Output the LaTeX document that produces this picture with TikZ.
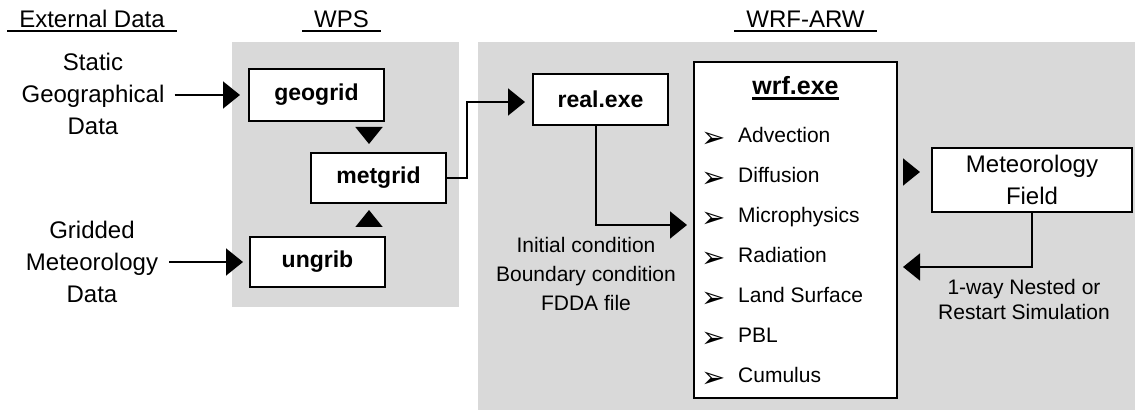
\documentclass[tikz,border=0pt]{standalone}
\usepackage{fontspec}
\setmainfont{Liberation Sans}
\newfontfamily\dejavu{DejaVu Sans}
\usetikzlibrary{arrows.meta,calc}
\definecolor{panel}{RGB}{217,217,217}
\tikzset{
 box/.style={draw, line width=2pt, fill=white, inner sep=0pt, font=\fontsize{23}{28}\selectfont\bfseries},
 arr/.style={line width=1.8pt, -{Triangle[length=17pt,width=27pt]}},
 big/.style={inner sep=0pt, align=center, font=\fontsize{24}{32}\selectfont},
 small/.style={inner sep=0pt, align=center, font=\fontsize{21}{29.25}\selectfont},
 head/.style={inner sep=0pt, anchor=base, font=\fontsize{24}{28}\selectfont},
 uline/.style={line width=2pt},
 item/.style={inner sep=0pt, anchor=base west, font=\fontsize{21}{25}\selectfont},
 bul/.style={inner sep=0pt, font=\dejavu\fontsize{29}{29}\selectfont},
}
\begin{document}
\begin{tikzpicture}[x=1pt,y=-1pt]
\useasboundingbox (0,0) rectangle (1135,414);
% panels
\fill[panel] (232,42) rectangle (459,307);
\fill[panel] (478,42) rectangle (1135,410);
% headings
\node[head] (hext) at (92,28) {External Data};
\draw[uline] (7,31.5) -- (177,31.5);
\node[head] (hwps) at (341.5,28) {WPS};
\draw[uline] (302,31.5) -- (381,31.5);
\node[head] (hwrf) at (805.5,28) {WRF-ARW};
\draw[uline] (734,31.5) -- (877,31.5);
% external data
\node[big] (static) at (93,94) {Static\\Geographical\\Data};
\node[big] (gridded) at (92,262) {Gridded\\Meteorology\\Data};
% WPS boxes
\node[box, minimum width=135pt, minimum height=52pt] (geogrid) at (316.5,95) {geogrid};
\node[box, minimum width=135pt, minimum height=50pt] (metgrid) at (378.5,178) {metgrid};
\node[box, minimum width=135pt, minimum height=50pt] (ungrib) at (317.5,262) {ungrib};
% WRF boxes
\node[box, minimum width=135pt, minimum height=51pt] (real) at (600.5,99.5) {real.exe};
\node[box, minimum width=203pt, minimum height=336pt] (wrf) at (795.5,230) {};
\node[box, minimum width=200pt, minimum height=64pt, align=center, font=\fontsize{24}{32}\selectfont] (met) at (1032,180) {Meteorology\\Field};
% wrf.exe contents
\node[inner sep=0pt, anchor=base, font=\fontsize{25}{30}\selectfont\bfseries] (title) at (795.5,94.3) {wrf.exe};
\draw[line width=2.5pt] ([yshift=-4pt]title.base west) -- ([yshift=-4pt]title.base east);
\foreach \t [count=\i] in {Advection, Diffusion, Microphysics, Radiation, Land Surface, PBL, Cumulus} {
  \node[item] (it\i) at (738,102.5+40*\i) {\t};
  \node[bul] (b\i) at (714,100+40*\i) {➢};
}
% labels
\node[small] (ic) at (586,274) {Initial condition\\Boundary condition\\FDDA file};
\node[small, font=\fontsize{21}{25}\selectfont] (nest) at (1024,299) {1-way Nested or\\Restart Simulation};
% connectors
\draw[arr, shorten <=10pt, shorten >=8pt] (static.east |- geogrid.west) -- (geogrid.west);
\draw[arr, shorten <=11pt, shorten >=6pt] (gridded.east |- ungrib.west) -- (ungrib.west);
\coordinate (ax) at (369,0);
\draw[arr, shorten <=6pt, shorten >=8pt] (geogrid.south -| ax) -- (metgrid.north -| ax);
\draw[arr, shorten <=10pt, shorten >=6pt] (ungrib.north -| ax) -- (metgrid.south -| ax);
\draw[arr, shorten >=7pt] (metgrid.east) -- ++(20,0) |- ([yshift=-2.5pt]real.west);
\draw[arr, shorten >=6pt] ([xshift=-4.5pt]real.south) |- ([yshift=5pt]wrf.west);
\coordinate (m1) at ([yshift=8pt]met.west);
\draw[arr, shorten <=5pt, shorten >=11pt] (m1 -| wrf.east) -- (m1);
\draw[arr, shorten >=5pt] (met.south) |- ([yshift=-37pt]wrf.east);
\end{tikzpicture}
\end{document}
